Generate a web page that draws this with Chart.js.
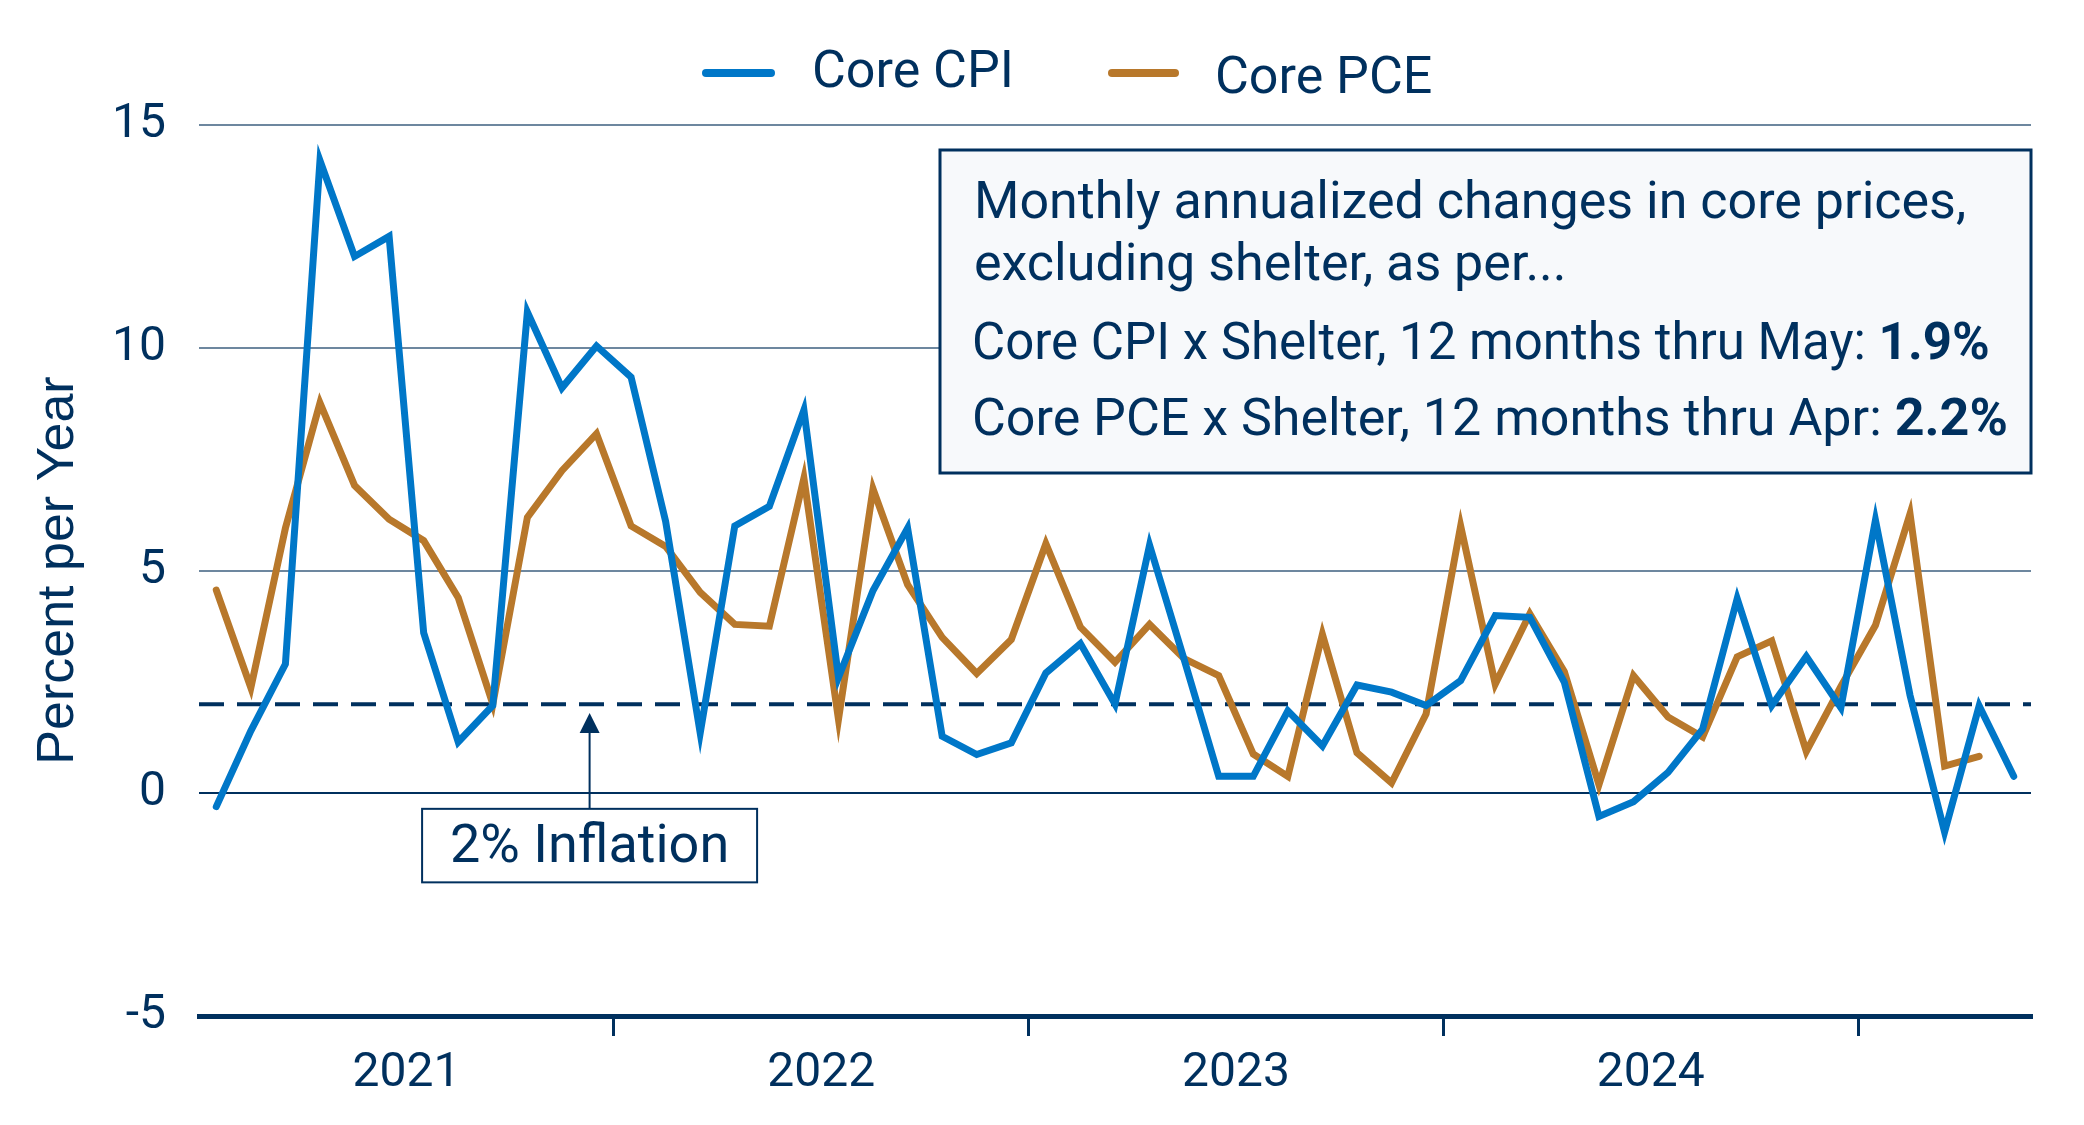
<!DOCTYPE html>
<html>
<head>
<meta charset="utf-8">
<script src="https://cdn.jsdelivr.net/npm/chart.js@4.4.1/dist/chart.umd.min.js"></script>
<style>
html,body{margin:0;padding:0;background:#ffffff;}
#wrap{width:2084px;height:1125px;position:relative;}
canvas{display:block;}
</style>
</head>
<body>
<div id="wrap"><canvas id="chart" width="2084" height="1125"></canvas></div>
<script>
// ---- categories ----
const years = ['2021', '2022', '2023', '2024', '2025'];
const monthNames = ['Jan','Feb','Mar','Apr','May','Jun','Jul','Aug','Sep','Oct','Nov','Dec'];
const monthsPerYear = [12, 12, 12, 12, 5];

// ---- series values (monthly annualized % change, core ex shelter) ----
const coreCPI = [
  -0.3, 1.4, 2.9, 14.2, 12.05, 12.5, 3.6, 1.15, 1.97, 10.8, 9.1, 10.04,
  9.34, 6.1, 1.35, 6.0, 6.44, 8.6, 2.6, 4.55, 5.95, 1.28, 0.87, 1.13,
  2.7, 3.36, 2.0, 5.57, 3.0, 0.38, 0.38, 1.85, 1.06, 2.43, 2.27, 1.97,
  2.53, 3.99, 3.95, 2.49, -0.52, -0.19, 0.47, 1.44, 4.37, 1.97, 3.07, 1.92,
  6.13, 2.2, -0.87, 1.96, 0.38
];
const corePCE = [
  4.56, 2.37, 5.95, 8.76, 6.91, 6.15, 5.67, 4.39, 2.0, 6.19, 7.24, 8.07,
  6.0, 5.54, 4.51, 3.79, 3.75, 7.07, 1.66, 6.83, 4.68, 3.5, 2.69, 3.45,
  5.6, 3.73, 2.94, 3.79, 3.02, 2.64, 0.88, 0.38, 3.57, 0.91, 0.23, 1.78,
  6.0, 2.45, 4.03, 2.73, 0.19, 2.64, 1.71, 1.26, 3.06, 3.42, 0.94, 2.4,
  3.77, 6.27, 0.61, 0.83
];

// ---- axis / annotation texts ----
const yTicks = [-5, 0, 5, 10, 15];
const seriesNames = ['Core CPI', 'Core PCE'];
const yTitle = 'Percent per Year';
const inflationTarget = 2;
const inflationLabel = '2% Inflation';
const noteLines = [
  'Monthly annualized changes in core prices,',
  'excluding shelter, as per...'
];
const noteStats = [
  ['Core CPI x Shelter, 12 months thru May: ', '1.9%'],
  ['Core PCE x Shelter, 12 months thru Apr: ', '2.2%']
];

// ---- build category labels ----
const labels = [];
years.forEach((yr, i) => {
  for (let m = 0; m < monthsPerYear[i]; m++) labels.push(monthNames[m] + ' ' + yr);
});

const NAVY = '#00305e';
const BLUE = '#0077c8';
const ORANGE = '#b8782b';
const GRID = '#6d879f';
const FONT = 'Roboto';

const overlay = {
  id: 'overlay',
  beforeDatasetsDraw(chart) {
    const {ctx, chartArea: a, scales: {y}} = chart;
    const yy = y.getPixelForValue(inflationTarget);
    ctx.save();
    ctx.strokeStyle = NAVY;
    ctx.lineWidth = 4;
    ctx.setLineDash([25, 13]);
    ctx.beginPath();
    ctx.moveTo(a.left, yy);
    ctx.lineTo(a.right, yy);
    ctx.stroke();
    ctx.restore();
  },
  afterDraw(chart) {
    const {ctx, chartArea: a, scales: {x, y}} = chart;
    ctx.save();

    // ---- legend ----
    const legendItems = [
      {x0: 706, x1: 771, tx: 812, ty: 87},
      {x0: 1112, x1: 1175, tx: 1215, ty: 93}
    ];
    chart.data.datasets.forEach((ds, i) => {
      const it = legendItems[i];
      ctx.strokeStyle = ds.borderColor;
      ctx.lineWidth = 8;
      ctx.lineCap = 'round';
      ctx.beginPath();
      ctx.moveTo(it.x0, 73);
      ctx.lineTo(it.x1, 73);
      ctx.stroke();
      ctx.fillStyle = NAVY;
      ctx.font = '52px ' + FONT;
      ctx.textAlign = 'left';
      ctx.textBaseline = 'alphabetic';
      ctx.fillText(ds.label, it.tx, it.ty);
    });
    ctx.lineCap = 'butt';

    // ---- arrow and 2% box ----
    const ax = x.getPixelForValue(10.8);
    const tipY = y.getPixelForValue(1.8);
    const boxTop = y.getPixelForValue(-0.35);
    const boxBot = y.getPixelForValue(-2.0);
    ctx.strokeStyle = NAVY;
    ctx.fillStyle = NAVY;
    ctx.lineWidth = 2;
    ctx.beginPath();
    ctx.moveTo(ax, boxTop);
    ctx.lineTo(ax, tipY + 18);
    ctx.stroke();
    ctx.beginPath();
    ctx.moveTo(ax, tipY);
    ctx.lineTo(ax - 10, tipY + 20);
    ctx.lineTo(ax + 10, tipY + 20);
    ctx.closePath();
    ctx.fill();
    const bw = 335;
    ctx.fillStyle = '#ffffff';
    ctx.fillRect(ax - bw / 2, boxTop, bw, boxBot - boxTop);
    ctx.strokeRect(ax - bw / 2, boxTop, bw, boxBot - boxTop);
    ctx.fillStyle = NAVY;
    ctx.font = '54px ' + FONT;
    ctx.textAlign = 'center';
    ctx.textBaseline = 'alphabetic';
    ctx.fillText(inflationLabel, ax, boxBot - 20);

    // ---- note box ----
    const nx0 = 940, ny0 = 150, nx1 = a.right, ny1 = 473;
    ctx.fillStyle = '#f7f9fb';
    ctx.fillRect(nx0, ny0, nx1 - nx0, ny1 - ny0);
    ctx.strokeStyle = NAVY;
    ctx.lineWidth = 3;
    ctx.strokeRect(nx0, ny0, nx1 - nx0, ny1 - ny0);
    ctx.fillStyle = NAVY;
    ctx.textAlign = 'left';
    ctx.font = '52px ' + FONT;
    ctx.fillText(noteLines[0], 974, 218);
    ctx.fillText(noteLines[1], 974, 280);
    const base = [359, 435];
    const sizes = [51, 52];
    noteStats.forEach((s, i) => {
      ctx.font = sizes[i] + 'px ' + FONT;
      ctx.fillText(s[0], 972, base[i]);
      const w = ctx.measureText(s[0]).width;
      ctx.font = 'bold ' + sizes[i] + 'px ' + FONT;
      ctx.fillText(s[1], 972 + w, base[i]);
    });
    ctx.restore();
  }
};

Chart.defaults.font.family = FONT;
Chart.defaults.color = NAVY;

new Chart(document.getElementById('chart'), {
  type: 'line',
  data: {
    labels: labels,
    datasets: [
      {label: seriesNames[0], data: coreCPI, borderColor: BLUE, backgroundColor: BLUE,
       borderWidth: 7, pointRadius: 0, tension: 0, borderCapStyle: 'round', borderJoinStyle: 'miter', fill: false},
      {label: seriesNames[1], data: corePCE, borderColor: ORANGE, backgroundColor: ORANGE,
       borderWidth: 7, pointRadius: 0, tension: 0, borderCapStyle: 'round', borderJoinStyle: 'miter', fill: false}
    ]
  },
  options: {
    responsive: false,
    animation: false,
    devicePixelRatio: 1,
    layout: {padding: {top: 125, right: 53, bottom: 0, left: 0}},
    plugins: {legend: {display: false}, tooltip: {enabled: false}},
    scales: {
      x: {
        type: 'category',
        offset: true,
        grid: {
          offset: true,
          drawOnChartArea: false,
          drawTicks: true,
          tickLength: 20,
          lineWidth: 3,
          color: (c) => (c.index !== undefined && c.index > 0 && c.index < labels.length && labels[c.index].startsWith('Jan')) ? NAVY : 'rgba(0,0,0,0)'
        },
        border: {display: true, color: NAVY, width: 5},
        ticks: {
          autoSkip: false,
          maxRotation: 0,
          minRotation: 0,
          labelOffset: -17.28,
          padding: 9,
          color: NAVY,
          font: {size: 48, family: FONT},
          callback: function (v) {
            const l = this.getLabelForValue(v);
            return l.startsWith('Jul') ? l.slice(4) : '';
          }
        },
        afterFit: (s) => { s.height = 109; }
      },
      y: {
        min: yTicks[0],
        max: yTicks[yTicks.length - 1],
        afterBuildTicks: (s) => { s.ticks = yTicks.map(v => ({value: v})); },
        grid: {
          drawTicks: false,
          lineWidth: 2,
          color: (c) => c.tick && c.tick.value === 0 ? NAVY : (c.tick && c.tick.value === yTicks[0] ? 'rgba(0,0,0,0)' : GRID)
        },
        border: {display: false},
        ticks: {
          padding: 33,
          color: NAVY,
          font: {size: 48, family: FONT}
        },
        title: {
          display: true,
          text: yTitle,
          color: NAVY,
          font: {size: 52, family: '"Liberation Sans", Arial, sans-serif'},
          padding: {top: 27, bottom: 0}
        },
        afterFit: (s) => { s.width = 199; }
      }
    }
  },
  plugins: [overlay]
});
</script>
</body>
</html>
